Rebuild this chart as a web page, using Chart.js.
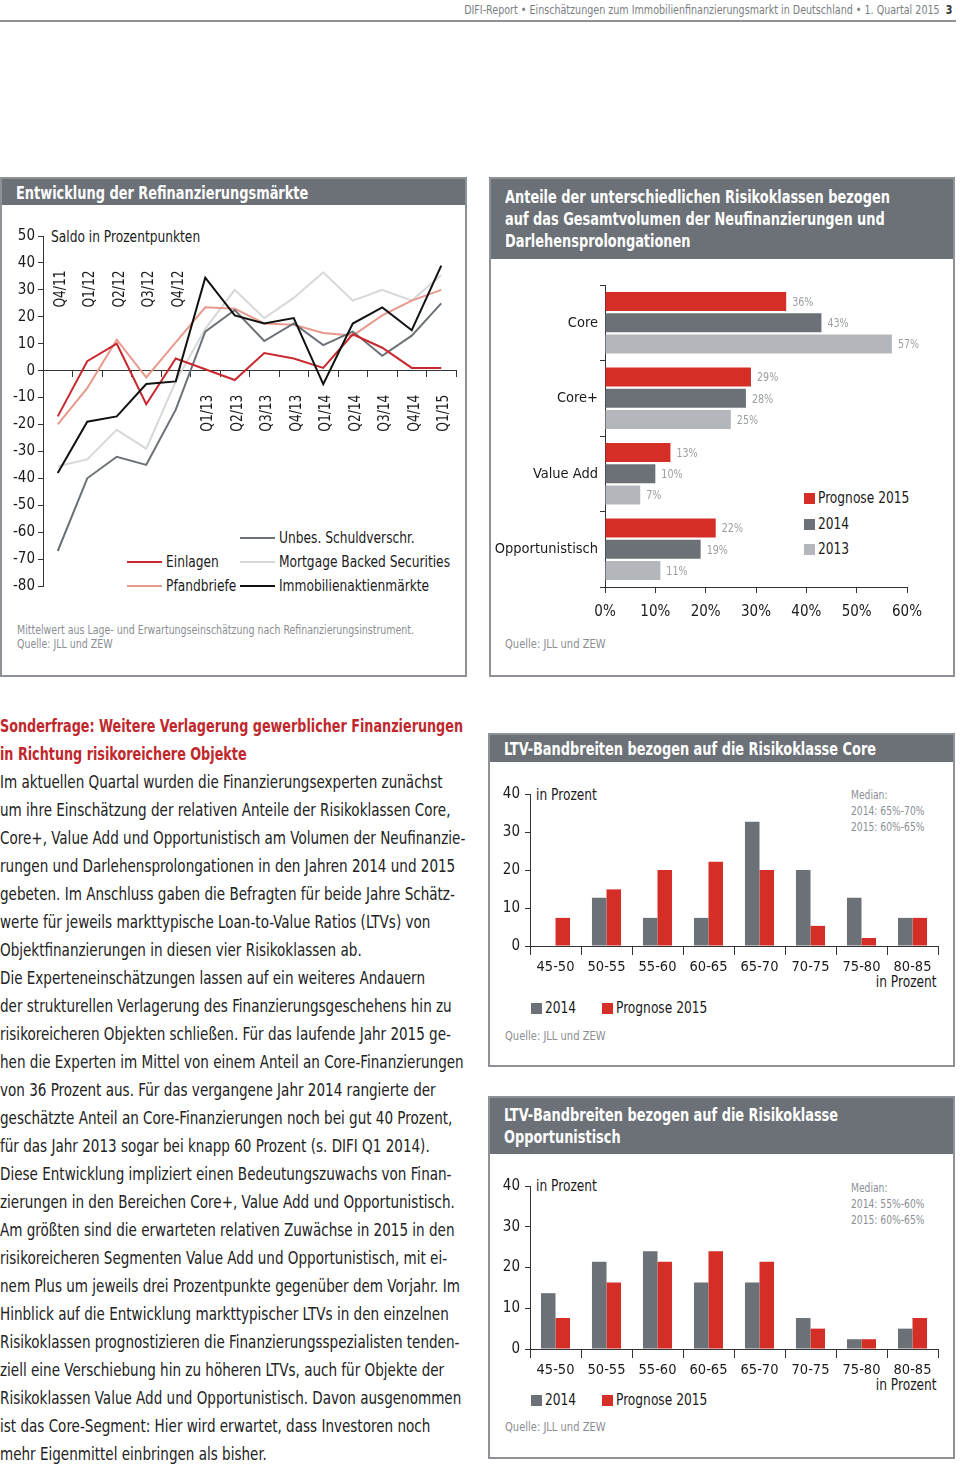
<!DOCTYPE html>
<html>
<head>
<meta charset="utf-8">
<script src="https://cdn.jsdelivr.net/npm/chart.js@4.4.1/dist/chart.umd.min.js"></script>
<style>
  body { margin: 0; width: 960px; height: 1464px; position: relative; background: #fff; overflow: hidden;
         font-family: "Liberation Sans Narrow", "DejaVu Sans Condensed", "Arial Narrow", sans-serif; color: #1a1a1a; }
  .abs { position: absolute; white-space: nowrap; }
  .n { display: inline-block; white-space: nowrap; transform: scaleX(0.85); transform-origin: 0 0; }
  .nr { display: inline-block; white-space: nowrap; transform: scaleX(0.85); transform-origin: 100% 0; }
  .panel { position: absolute; border: 2px solid #8e9296; box-sizing: border-box; }
  .phead { background: #6b7177; color: #fff; font-weight: bold; font-size: 17px; line-height: 22px; padding: 3px 14px 0 14px; box-sizing: border-box; }
  .phead span { display: block; white-space: nowrap; transform: scaleX(0.845); transform-origin: 0 0; }
  .src { color: #8a8e92; font-size: 12px; }
  .quelle { color: #8a8e92; font-size: 13px; }
  .lbl { font-size: 16px; color: #1a1a1a; }
  .sq { display: inline-block; width: 11px; height: 11px; margin-right: 3px; vertical-align: -1px; }
  .leg-line { position: absolute; height: 2px; width: 35px; }
  #text div { height: 28px; line-height: 28px; white-space: nowrap; transform: scaleX(0.885); transform-origin: 0 0; }
  #text div.h { color: #c0282d; font-weight: bold; transform: scaleX(0.835); }
  canvas { position: absolute; }
</style>
</head>
<body>

<!-- Kopfzeile -->
<div class="abs" style="right:8px; top:2px; font-size:12.5px; color:#7a7e82;"><span class="nr">DIFI-Report • Einschätzungen zum Immobilienfinanzierungsmarkt in Deutschland • 1. Quartal 2015&nbsp; <span style="color:#333;font-weight:bold">3</span></span></div>
<div class="abs" style="left:0; top:20px; width:956px; height:2px; background:#8e9296;"></div>

<!-- Panel 1 -->
<div class="panel" style="left:0; top:177px; width:467px; height:500px;">
  <div class="phead" style="height:26px;"><span>Entwicklung der Refinanzierungsmärkte</span></div>
</div>
<div class="abs lbl" style="left:51px; top:227px;"><span class="n">Saldo in Prozentpunkten</span></div>
<div class="leg-line" style="left:240px; top:537px; background:#6b7177;"></div>
<div class="abs lbl" style="left:279px; top:528px;"><span class="n">Unbes. Schuldverschr.</span></div>
<div class="leg-line" style="left:127px; top:561px; background:#c8282e;"></div>
<div class="abs lbl" style="left:166px; top:552px;"><span class="n">Einlagen</span></div>
<div class="leg-line" style="left:240px; top:561px; background:#d6d8da;"></div>
<div class="abs lbl" style="left:279px; top:552px;"><span class="n">Mortgage Backed Securities</span></div>
<div class="leg-line" style="left:127px; top:585px; background:#e9998c;"></div>
<div class="abs lbl" style="left:166px; top:576px;"><span class="n">Pfandbriefe</span></div>
<div class="leg-line" style="left:240px; top:585px; background:#111;"></div>
<div class="abs lbl" style="left:279px; top:576px;"><span class="n">Immobilienaktienmärkte</span></div>
<div class="abs src" style="left:17px; top:623px; line-height:14px;"><span class="n" style="transform:scaleX(0.875)">Mittelwert aus Lage- und Erwartungseinschätzung nach Refinanzierungsinstrument.<br>Quelle: JLL und ZEW</span></div>
<canvas id="refiChart" width="465" height="380" style="left:0; top:220px;"></canvas>

<!-- Panel 2 -->
<div class="panel" style="left:489px; top:177px; width:466px; height:500px;">
  <div class="phead" style="height:80px; padding-top:7px;"><span>Anteile der unterschiedlichen Risikoklassen bezogen</span><span>auf das Gesamtvolumen der Neufinanzierungen und</span><span>Darlehensprolongationen</span></div>
</div>
<div class="abs lbl" style="left:804px; top:488px;"><span class="sq" style="background:#d42e27"></span><span class="n">Prognose 2015</span></div>
<div class="abs lbl" style="left:804px; top:514px;"><span class="sq" style="background:#6b7177"></span><span class="n">2014</span></div>
<div class="abs lbl" style="left:804px; top:539px;"><span class="sq" style="background:#b3b7bb"></span><span class="n">2013</span></div>
<div class="abs quelle" style="left:505px; top:636px;"><span class="n">Quelle: JLL und ZEW</span></div>
<canvas id="riskChart" width="466" height="370" style="left:489px; top:270px;"></canvas>

<!-- Fliesstext -->
<div id="text" class="abs" style="left:0; top:712px; font-size:17px; color:#222;">
  <div class="h">Sonderfrage: Weitere Verlagerung gewerblicher Finanzierungen</div>
  <div class="h">in Richtung risikoreichere Objekte</div>
  <div>Im aktuellen Quartal wurden die Finanzierungsexperten zunächst</div>
  <div>um ihre Einschätzung der relativen Anteile der Risikoklassen Core,</div>
  <div>Core+, Value Add und Opportunistisch am Volumen der Neufinanzie-</div>
  <div>rungen und Darlehensprolongationen in den Jahren 2014 und 2015</div>
  <div>gebeten. Im Anschluss gaben die Befragten für beide Jahre Schätz-</div>
  <div>werte für jeweils markttypische Loan-to-Value Ratios (LTVs) von</div>
  <div>Objektfinanzierungen in diesen vier Risikoklassen ab.</div>
  <div>Die Experteneinschätzungen lassen auf ein weiteres Andauern</div>
  <div>der strukturellen Verlagerung des Finanzierungsgeschehens hin zu</div>
  <div>risikoreicheren Objekten schließen. Für das laufende Jahr 2015 ge-</div>
  <div>hen die Experten im Mittel von einem Anteil an Core-Finanzierungen</div>
  <div>von 36 Prozent aus. Für das vergangene Jahr 2014 rangierte der</div>
  <div>geschätzte Anteil an Core-Finanzierungen noch bei gut 40 Prozent,</div>
  <div>für das Jahr 2013 sogar bei knapp 60 Prozent (s. DIFI Q1 2014).</div>
  <div>Diese Entwicklung impliziert einen Bedeutungszuwachs von Finan-</div>
  <div>zierungen in den Bereichen Core+, Value Add und Opportunistisch.</div>
  <div>Am größten sind die erwarteten relativen Zuwächse in 2015 in den</div>
  <div>risikoreicheren Segmenten Value Add und Opportunistisch, mit ei-</div>
  <div>nem Plus um jeweils drei Prozentpunkte gegenüber dem Vorjahr. Im</div>
  <div>Hinblick auf die Entwicklung markttypischer LTVs in den einzelnen</div>
  <div>Risikoklassen prognostizieren die Finanzierungsspezialisten tenden-</div>
  <div>ziell eine Verschiebung hin zu höheren LTVs, auch für Objekte der</div>
  <div>Risikoklassen Value Add und Opportunistisch. Davon ausgenommen</div>
  <div>ist das Core-Segment: Hier wird erwartet, dass Investoren noch</div>
  <div>mehr Eigenmittel einbringen als bisher.</div>
</div>

<!-- Panel 3 -->
<div class="panel" style="left:488px; top:733px; width:467px; height:334px;">
  <div class="phead" style="height:27px;"><span>LTV-Bandbreiten bezogen auf die Risikoklasse Core</span></div>
</div>
<div class="abs lbl" style="left:536px; top:785px;"><span class="n">in Prozent</span></div>
<div class="abs src" style="left:851px; top:787px; line-height:16px;"><span class="n">Median:<br>2014: 65%-70%<br>2015: 60%-65%</span></div>
<div class="abs lbl" style="right:23px; top:972px;"><span class="nr">in Prozent</span></div>
<div class="abs lbl" style="left:531px; top:998px;"><span class="sq" style="background:#6b7177"></span><span class="n">2014</span></div>
<div class="abs lbl" style="left:602px; top:998px;"><span class="sq" style="background:#d42e27"></span><span class="n">Prognose 2015</span></div>
<div class="abs quelle" style="left:505px; top:1028px;"><span class="n">Quelle: JLL und ZEW</span></div>
<canvas id="coreChart" width="466" height="215" style="left:489px; top:780px;"></canvas>

<!-- Panel 4 -->
<div class="panel" style="left:488px; top:1096px; width:467px; height:363px;">
  <div class="phead" style="height:56px; padding-top:6px;"><span>LTV-Bandbreiten bezogen auf die Risikoklasse</span><span>Opportunistisch</span></div>
</div>
<div class="abs lbl" style="left:536px; top:1176px;"><span class="n">in Prozent</span></div>
<div class="abs src" style="left:851px; top:1180px; line-height:16px;"><span class="n">Median:<br>2014: 55%-60%<br>2015: 60%-65%</span></div>
<div class="abs lbl" style="right:23px; top:1375px;"><span class="nr">in Prozent</span></div>
<div class="abs lbl" style="left:531px; top:1390px;"><span class="sq" style="background:#6b7177"></span><span class="n">2014</span></div>
<div class="abs lbl" style="left:602px; top:1390px;"><span class="sq" style="background:#d42e27"></span><span class="n">Prognose 2015</span></div>
<div class="abs quelle" style="left:505px; top:1419px;"><span class="n">Quelle: JLL und ZEW</span></div>
<canvas id="oppChart" width="466" height="230" style="left:489px; top:1170px;"></canvas>

<script>
// Daten: Refinanzierungsmärkte (Saldo in Prozentpunkten)
const quarters = ["Q4/11", "Q1/12", "Q2/12", "Q3/12", "Q4/12", "Q1/13", "Q2/13", "Q3/13", "Q4/13", "Q1/14", "Q2/14", "Q3/14", "Q4/14", "Q1/15"];
const einlagen = [-17, 3.5, 10, -12.5, 4.5, 0.5, -3.5, 6.5, 4.5, 1, 13.5, 8.5, 1, 1];
const pfandbriefe = [-20, -6.5, 11.5, -2.5, 10.5, 23.5, 23, 17.5, 17, 14, 13, 20.5, 26, 30];
const unbesSchuldverschr = [-67, -40, -32, -35, -14.5, 14.5, 22.5, 11, 17.5, 9.5, 14.5, 5.5, 13, 25];
const mortgageBacked = [-35.5, -33, -22, -29, -4, 15.5, 30, 19.5, 27, 36.5, 26, 30, 26, 35.5];
const immoAktien = [-38, -19, -17, -5, -4, 34.5, 20.5, 17.5, 19.5, -5, 17.5, 23.5, 15, 39];

// Daten: Anteile der Risikoklassen (%)
const riskClasses = ["Core", "Core+", "Value Add", "Opportunistisch"];
const share2015 = [36, 29, 13, 22];
const share2014 = [43, 28, 10, 19];
const share2013 = [57, 25, 7, 11];

// Daten: LTV-Bandbreiten (in Prozent)
const ltvBands = ["45-50", "50-55", "55-60", "60-65", "65-70", "70-75", "75-80", "80-85"];
const coreLtv2014 = [0, 12.7, 7.4, 7.4, 32.7, 20, 12.7, 7.4];
const coreLtv2015 = [7.4, 14.9, 20, 22.2, 20, 5.3, 2.1, 7.4];
const oppLtv2014 = [13.7, 21.4, 24, 16.3, 16.3, 7.6, 2.4, 5];
const oppLtv2015 = [7.6, 16.3, 21.4, 24, 21.4, 5, 2.4, 7.6];

const FONT = '"Liberation Sans Narrow", "DejaVu Sans Condensed", "Arial Narrow", sans-serif';
const RED = "#d42e27";
const DARK = "#6b7177";
const LIGHT = "#b3b7bb";
const AXIS = "#333";

Chart.defaults.font.family = FONT;
Chart.defaults.color = "#1a1a1a";
Chart.defaults.animation = false;
Chart.defaults.responsive = false;
Chart.defaults.devicePixelRatio = 1;
Chart.defaults.plugins.legend.display = false;
Chart.defaults.plugins.tooltip.enabled = false;

// Quartalsbeschriftung: erste fünf oberhalb, Rest unterhalb der Nulllinie
const quarterLabels = {
    id: "quarterLabels",
    afterDraw(chart) {
        const xs = chart.scales.x;
        const y0 = chart.scales.y.getPixelForValue(0);
        const ctx = chart.ctx;
        ctx.save();
        ctx.font = "16px " + FONT;
        ctx.fillStyle = "#1a1a1a";
        ctx.textBaseline = "middle";
        quarters.forEach(function (q, i) {
            const px = xs.getPixelForValue(i) + 3;
            ctx.save();
            if (i < 5) {
                ctx.translate(px, y0 - 63);
                ctx.textAlign = "left";
            } else {
                ctx.translate(px, y0 + 24);
                ctx.textAlign = "right";
            }
            ctx.rotate(-Math.PI / 2);
            ctx.scale(0.85, 1);
            ctx.fillText(q, 0, 0);
            ctx.restore();
        });
        ctx.restore();
    }
};

new Chart("refiChart", {
    type: "line",
    data: {
        labels: quarters,
        datasets: [
            { label: "Immobilienaktienmärkte", data: immoAktien, borderColor: "#111" },
            { label: "Einlagen", data: einlagen, borderColor: "#c8282e" },
            { label: "Unbes. Schuldverschr.", data: unbesSchuldverschr, borderColor: DARK },
            { label: "Pfandbriefe", data: pfandbriefe, borderColor: "#e9998c" },
            { label: "Mortgage Backed Securities", data: mortgageBacked, borderColor: "#d6d8da" }
        ]
    },
    options: {
        layout: { padding: { left: 0, top: 16, right: 9, bottom: 14 } },
        elements: { line: { borderWidth: 2, tension: 0 }, point: { radius: 0 } },
        scales: {
            x: {
                position: { y: 0 },
                offset: true,
                grid: { offset: true, drawOnChartArea: false, tickLength: 6, color: AXIS },
                border: { color: AXIS },
                ticks: { display: false }
            },
            y: {
                min: -80, max: 50,
                ticks: { stepSize: 10, font: { size: 15 }, padding: 3 },
                grid: { drawOnChartArea: false, tickLength: 5, color: AXIS },
                border: { color: AXIS },
                afterFit: function (scale) { scale.width = 43; }
            }
        }
    },
    plugins: [quarterLabels]
});

// Prozentwerte rechts neben den Balken
const barValueLabels = {
    id: "barValueLabels",
    afterDatasetsDraw(chart) {
        const ctx = chart.ctx;
        ctx.save();
        ctx.font = "12.5px " + FONT;
        ctx.fillStyle = "#9a9ea2";
        ctx.textAlign = "left";
        ctx.textBaseline = "middle";
        chart.data.datasets.forEach(function (ds, di) {
            chart.getDatasetMeta(di).data.forEach(function (bar, i) {
                ctx.save();
                ctx.translate(bar.x + 6, bar.y + 1);
                ctx.scale(0.85, 1);
                ctx.fillText(ds.data[i] + "%", 0, 0);
                ctx.restore();
            });
        });
        ctx.restore();
    }
};

new Chart("riskChart", {
    type: "bar",
    data: {
        labels: riskClasses,
        datasets: [
            { label: "Prognose 2015", data: share2015, backgroundColor: RED },
            { label: "2014", data: share2014, backgroundColor: DARK },
            { label: "2013", data: share2013, backgroundColor: LIGHT }
        ]
    },
    options: {
        indexAxis: "y",
        layout: { padding: { left: 0, top: 15, right: 48, bottom: 13 } },
        datasets: { bar: { categoryPercentage: 0.84, barPercentage: 0.9 } },
        scales: {
            x: {
                min: 0, max: 60,
                ticks: { stepSize: 10, font: { size: 15 }, padding: 10, callback: function (v) { return v + "%"; } },
                grid: { drawOnChartArea: false, tickLength: 6, color: AXIS },
                border: { color: AXIS },
                afterFit: function (scale) { scale.height = 40; }
            },
            y: {
                ticks: { font: { size: 14.5 }, padding: 2 },
                grid: { drawOnChartArea: false, tickLength: 5, color: AXIS, offset: true },
                border: { color: AXIS },
                afterFit: function (scale) { scale.width = 116; }
            }
        }
    },
    plugins: [barValueLabels]
});

// LTV-Säulendiagramme
function create_ltv_chart(chartId, values2014, values2015, padTop, padBottom) {
    new Chart(chartId, {
        type: "bar",
        data: {
            labels: ltvBands,
            datasets: [
                { label: "2014", data: values2014, backgroundColor: DARK },
                { label: "Prognose 2015", data: values2015, backgroundColor: RED }
            ]
        },
        options: {
            layout: { padding: { left: 0, top: padTop, right: 17, bottom: padBottom } },
            datasets: { bar: { categoryPercentage: 0.57, barPercentage: 1.0 } },
            scales: {
                x: {
                    ticks: { font: { size: 14.5 }, padding: 4, maxRotation: 0, autoSkip: false },
                    grid: { drawOnChartArea: false, tickLength: 9, color: AXIS },
                    border: { color: AXIS },
                    afterFit: function (scale) { scale.height = 40; }
                },
                y: {
                    min: 0, max: 40,
                    ticks: { stepSize: 10, font: { size: 15 }, padding: 5 },
                    grid: { drawOnChartArea: false, tickLength: 5, color: AXIS },
                    border: { color: AXIS },
                    afterFit: function (scale) { scale.width = 41; }
                }
            }
        }
    });
}

create_ltv_chart("coreChart", coreLtv2014, coreLtv2015, 14, 9);
create_ltv_chart("oppChart", oppLtv2014, oppLtv2015, 16, 11);
</script>
</body>
</html>
